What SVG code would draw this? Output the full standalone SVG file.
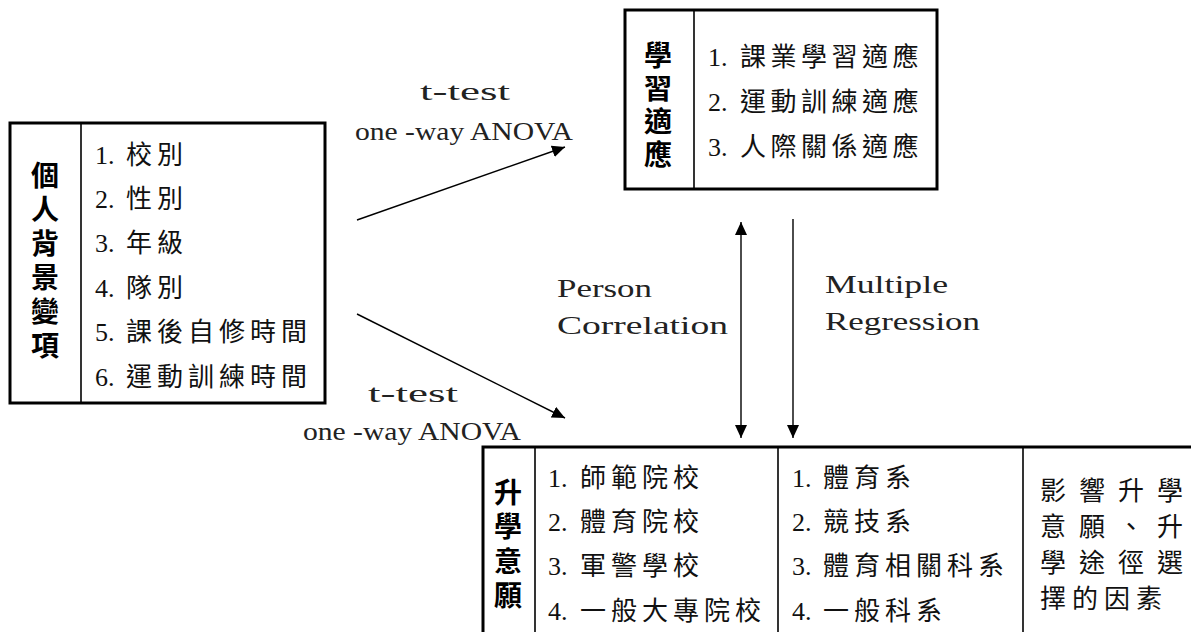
<svg xmlns="http://www.w3.org/2000/svg" width="1191" height="632" viewBox="0 0 1191 632">
<style>
.box{fill:#fff;stroke:#000;stroke-width:3}
.dv{stroke:#000;stroke-width:1.6}
.t{font-family:"Noto Sans CJK TC","Noto Sans CJK SC",sans-serif;font-weight:700;font-size:28px;fill:#000;writing-mode:vertical-rl;text-orientation:upright}
.i{font-family:"Liberation Serif","Noto Sans CJK TC",serif;font-size:26px;fill:#111}
.cj{font-family:"Noto Sans CJK TC","Noto Sans CJK SC",sans-serif;letter-spacing:5px}
.e{font-family:"Liberation Serif",serif;font-size:26px;fill:#222}
.c{stroke:#000;stroke-width:1.4;fill:none}
</style>
<defs>
<marker id="ah" markerUnits="userSpaceOnUse" markerWidth="14" markerHeight="12" refX="13" refY="6" orient="auto-start-reverse" viewBox="0 0 14 12">
<path d="M0,0 L13,6 L0,12 z" fill="#000"/>
</marker>
</defs>
<rect width="1191" height="632" fill="#fff"/>

<g id="connectors">
<line class="c" x1="357" y1="220" x2="565" y2="147" marker-end="url(#ah)"/>
<line class="c" x1="357" y1="314" x2="565" y2="418" marker-end="url(#ah)"/>
<line class="c" x1="741" y1="222" x2="741" y2="438" marker-start="url(#ah)" marker-end="url(#ah)"/>
<line class="c" x1="793" y1="219" x2="793" y2="438" marker-end="url(#ah)"/>
<text class="e" x="420" y="100" textLength="90" lengthAdjust="spacingAndGlyphs">t-test</text>
<text class="e" x="355" y="140" textLength="218" lengthAdjust="spacingAndGlyphs">one -way ANOVA</text>
<text class="e" x="368" y="402" textLength="90" lengthAdjust="spacingAndGlyphs">t-test</text>
<text class="e" x="303" y="440" textLength="218" lengthAdjust="spacingAndGlyphs">one -way ANOVA</text>
<text class="e" x="557" y="297" textLength="95" lengthAdjust="spacingAndGlyphs">Person</text>
<text class="e" x="557" y="334" textLength="171" lengthAdjust="spacingAndGlyphs">Correlation</text>
<text class="e" x="825" y="293" textLength="123" lengthAdjust="spacingAndGlyphs">Multiple</text>
<text class="e" x="825" y="330" textLength="155" lengthAdjust="spacingAndGlyphs">Regression</text>
</g>

<g id="node-background">
<rect class="box" x="10" y="123" width="315" height="280"/>
<line class="dv" x1="81" y1="123" x2="81" y2="403"/>
<text class="t" x="45" y="161" style="letter-spacing:6px">個人背景變項</text>
<text class="i" x="95" y="164">1.<tspan class="cj" x="126">校別</tspan></text>
<text class="i" x="95" y="208">2.<tspan class="cj" x="126">性別</tspan></text>
<text class="i" x="95" y="252">3.<tspan class="cj" x="126">年級</tspan></text>
<text class="i" x="95" y="297">4.<tspan class="cj" x="126">隊別</tspan></text>
<text class="i" x="95" y="341">5.<tspan class="cj" x="126">課後自修時間</tspan></text>
<text class="i" x="95" y="386">6.<tspan class="cj" x="126">運動訓練時間</tspan></text>
</g>

<g id="node-adaptation">
<rect class="box" x="625" y="10" width="312" height="179"/>
<line class="dv" x1="694" y1="10" x2="694" y2="189"/>
<text class="t" x="658" y="41" style="letter-spacing:5px">學習適應</text>
<text class="i" x="708" y="66">1.<tspan class="cj" x="740" style="letter-spacing:4.5px">課業學習適應</tspan></text>
<text class="i" x="708" y="111">2.<tspan class="cj" x="740" style="letter-spacing:4.5px">運動訓練適應</tspan></text>
<text class="i" x="708" y="156">3.<tspan class="cj" x="740" style="letter-spacing:4.5px">人際關係適應</tspan></text>
</g>

<g id="node-intention">
<rect class="box" x="483" y="447" width="800" height="300"/>
<line class="dv" x1="535" y1="447" x2="535" y2="632"/>
<line class="dv" x1="778" y1="447" x2="778" y2="632"/>
<line class="dv" x1="1023" y1="447" x2="1023" y2="632"/>
<text class="t" x="508" y="478" style="letter-spacing:6.5px">升學意願</text>
<text class="i" x="548" y="487">1.<tspan class="cj" x="580">師範院校</tspan></text>
<text class="i" x="548" y="531">2.<tspan class="cj" x="580">體育院校</tspan></text>
<text class="i" x="548" y="575">3.<tspan class="cj" x="580">軍警學校</tspan></text>
<text class="i" x="548" y="620">4.<tspan class="cj" x="580">一般大專院校</tspan></text>
<text class="i" x="792" y="487">1.<tspan class="cj" x="823">體育系</tspan></text>
<text class="i" x="792" y="531">2.<tspan class="cj" x="823">競技系</tspan></text>
<text class="i" x="792" y="575">3.<tspan class="cj" x="823">體育相關科系</tspan></text>
<text class="i" x="792" y="620">4.<tspan class="cj" x="823">一般科系</tspan></text>
<text class="i cj" style="letter-spacing:0"><tspan x="1040 1079 1118 1157" y="500">影響升學</tspan><tspan x="1040 1079 1118 1157" y="536">意願、升</tspan><tspan x="1040 1079 1118 1157" y="572">學途徑選</tspan><tspan x="1040 1072 1104 1136" y="608">擇的因素</tspan></text>
</g>
</svg>
